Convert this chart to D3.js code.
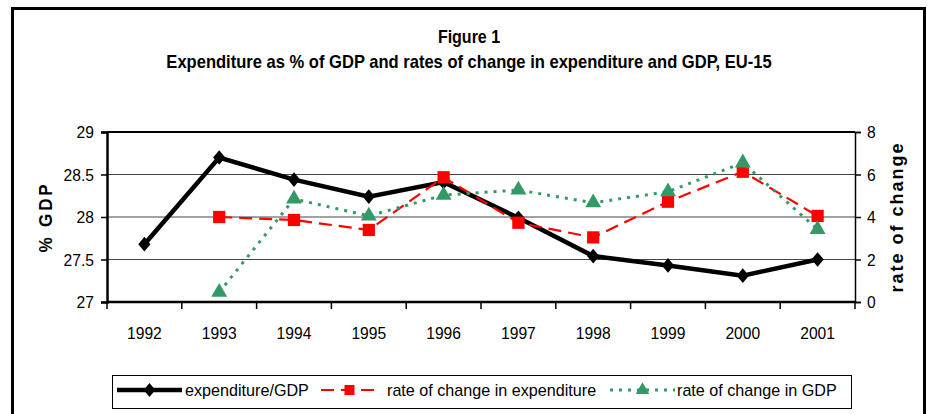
<!DOCTYPE html>
<html>
<head>
<meta charset="utf-8">
<script src="https://cdn.jsdelivr.net/npm/d3@7"></script>
<style>
  body { margin: 0; background: #fff; }
  text { font-family: "Liberation Sans", Arial, sans-serif; }
</style>
</head>
<body>
<div id="chart"></div>
<script>
// data
var years = ["1992", "1993", "1994", "1995", "1996", "1997", "1998", "1999", "2000", "2001"]
var expGdp = [27.68, 28.70, 28.44, 28.24, 28.41, 27.99, 27.54, 27.43, 27.31, 27.50]
var rateExp = [null, 4.0, 3.86, 3.39, 5.87, 3.73, 3.04, 4.72, 6.13, 4.05]
var rateGdp = [null, 0.46, 4.85, 4.05, 5.03, 5.27, 4.67, 5.19, 6.55, 3.42]
var leftTicks = [27, 27.5, 28, 28.5, 29]
var rightTicks = [0, 2, 4, 6, 8]

var W = 927, H = 414
var margin = { top: 132, right: 72, bottom: 112, left: 107 }
var width = W - margin.left - margin.right,
    height = H - margin.top - margin.bottom

// squeeze text horizontally (narrow font look) around its anchor
function squeeze(sel, k) {
  sel.each(function () {
    var t = d3.select(this)
    var tx = +t.attr("x") || 0, ty = +t.attr("y") || 0
    t.attr("x", 0).attr("y", 0)
      .attr("transform", `translate(${tx},${ty}) scale(${k},1)`)
  })
}

var svg = d3.select("#chart").append("svg")
  .attr("width", W)
  .attr("height", H)

// outer frame
svg.append("rect")
  .attr("x", 12.5).attr("y", 8.5)
  .attr("width", 912).attr("height", 420)
  .attr("fill", "none").attr("stroke", "#000").attr("stroke-width", 3)

svg.append("text")
  .attr("x", 469).attr("y", 43)
  .attr("text-anchor", "middle")
  .style("font-size", "18px").style("font-weight", "bold")
  .text("Figure 1")
  .call(squeeze, 0.89)

svg.append("text")
  .attr("x", 469).attr("y", 68)
  .attr("text-anchor", "middle")
  .style("font-size", "18px").style("font-weight", "bold")
  .text("Expenditure as % of GDP and rates of change in expenditure and GDP, EU-15")
  .call(squeeze, 0.92)

var g = svg.append("g").attr("transform", `translate(${margin.left},${margin.top})`)

var x = d3.scaleBand().domain(years).range([0, width])
var y = d3.scaleLinear().domain([27, 29]).range([height, 0])
var y2 = d3.scaleLinear().domain([0, 8]).range([height, 0])

// gridlines
g.selectAll(".grid").data(leftTicks.slice(1, -1))
  .enter().append("line")
  .attr("x1", 0).attr("x2", width)
  .attr("y1", d => y(d)).attr("y2", d => y(d))
  .attr("stroke", "#444").attr("stroke-width", 1)

// top border of plot
g.append("line")
  .attr("x1", 0).attr("x2", width)
  .attr("y1", 0).attr("y2", 0)
  .attr("stroke", "#000").attr("stroke-width", 2)

var yAxis = g.append("g")
  .call(d3.axisLeft(y).tickValues(leftTicks).tickSize(6).tickFormat(d3.format("")))
var y2Axis = g.append("g")
  .attr("transform", `translate(${width},0)`)
  .call(d3.axisRight(y2).tickValues(rightTicks).tickSize(6))

// x axis: ticks at band boundaries
var xAxis = g.append("g")
  .attr("transform", `translate(0,${height})`)
xAxis.append("line")
  .attr("x1", 0).attr("x2", width)
  .attr("stroke", "#000").attr("stroke-width", 2.5)
xAxis.selectAll(".tk").data(d3.range(years.length + 1))
  .enter().append("line")
  .attr("x1", i => i * x.bandwidth()).attr("x2", i => i * x.bandwidth())
  .attr("y1", 0).attr("y2", 7)
  .attr("stroke", "#000").attr("stroke-width", 1.5)
xAxis.selectAll(".lbl").data(years)
  .enter().append("text")
  .attr("x", d => x(d) + x.bandwidth() / 2)
  .attr("y", 37)
  .attr("text-anchor", "middle")
  .style("font-size", "17px")
  .text(d => d)
  .call(squeeze, 0.92)

yAxis.select(".domain").attr("stroke-width", 2.5)
y2Axis.select(".domain").attr("stroke-width", 1.5)
g.selectAll(".tick line").attr("stroke-width", 1.5)
g.selectAll(".tick text").style("font-size", "17px").attr("fill", "#000").attr("dy", "0.35em")
yAxis.selectAll(".tick text").attr("x", -13).call(squeeze, 0.92)
y2Axis.selectAll(".tick text").attr("x", 12).call(squeeze, 0.92)

svg.append("text")
  .attr("transform", `translate(52,${margin.top + height / 2}) rotate(-90) scale(0.95,1)`)
  .attr("text-anchor", "middle")
  .style("font-size", "18px").style("font-weight", "bold")
  .style("letter-spacing", "3px")
  .text("% GDP")

svg.append("text")
  .attr("transform", `translate(903,${margin.top + height / 2}) rotate(-90)`)
  .attr("text-anchor", "middle")
  .style("font-size", "18px").style("font-weight", "bold")
  .style("letter-spacing", "2px")
  .text("rate of change")

var cx = d => x(d) + x.bandwidth() / 2

var series = [
  { name: "expenditure/GDP", values: expGdp, scale: y, color: "#000", width: 4.5, dash: null, symbol: d3.symbolDiamond, size: 62, legSize: 55 },
  { name: "rate of change in expenditure", values: rateExp, scale: y2, color: "#ff0000", width: 2.2, dash: "13,7", symbol: d3.symbolSquare, size: 150, legSize: 100 },
  { name: "rate of change in GDP", values: rateGdp, scale: y2, color: "#339966", width: 3, dash: "3,6", symbol: d3.symbolTriangle, size: 110, legSize: 80 }
]

function marker(s, size) {
  return d3.symbol().type(s.symbol).size(size)()
}
function markerScale(s) {
  return s.symbol === d3.symbolDiamond ? " scale(1.45,1)" : ""
}

series.forEach(function (s) {
  var pts = years.map((yr, i) => ({ yr: yr, v: s.values[i] })).filter(d => d.v != null)
  var line = d3.line().x(d => cx(d.yr)).y(d => s.scale(d.v))
  g.append("path")
    .datum(pts)
    .attr("d", line)
    .attr("fill", "none")
    .attr("stroke", s.color)
    .attr("stroke-width", s.width)
    .attr("stroke-dasharray", s.dash)
  g.selectAll(null).data(pts)
    .enter().append("path")
    .attr("transform", d => `translate(${cx(d.yr)},${s.scale(d.v)})` + markerScale(s))
    .attr("d", marker(s, s.size))
    .attr("fill", s.color)
})

// legend
var legend = svg.append("g")
legend.append("rect")
  .attr("x", 112.5).attr("y", 375.5)
  .attr("width", 739).attr("height", 33)
  .attr("fill", "#fff").attr("stroke", "#000").attr("stroke-width", 1)

var legPos = [{ x0: 117, x1: 182, tx: 185 }, { x0: 321, x1: 378, tx: 387 }, { x0: 610, x1: 675, tx: 677 }]
series.forEach(function (s, i) {
  var p = legPos[i], ly = 390
  legend.append("line")
    .attr("x1", p.x0).attr("x2", p.x1)
    .attr("y1", ly).attr("y2", ly)
    .attr("stroke", s.color).attr("stroke-width", s.width)
    .attr("stroke-dasharray", s.dash)
  legend.append("path")
    .attr("transform", `translate(${(p.x0 + p.x1) / 2},${ly})` + markerScale(s))
    .attr("d", marker(s, s.legSize))
    .attr("fill", s.color)
  legend.append("text")
    .attr("x", p.tx).attr("y", ly + 6)
    .style("font-size", "17px")
    .text(s.name)
    .call(squeeze, 0.95)
})
</script>
</body>
</html>
